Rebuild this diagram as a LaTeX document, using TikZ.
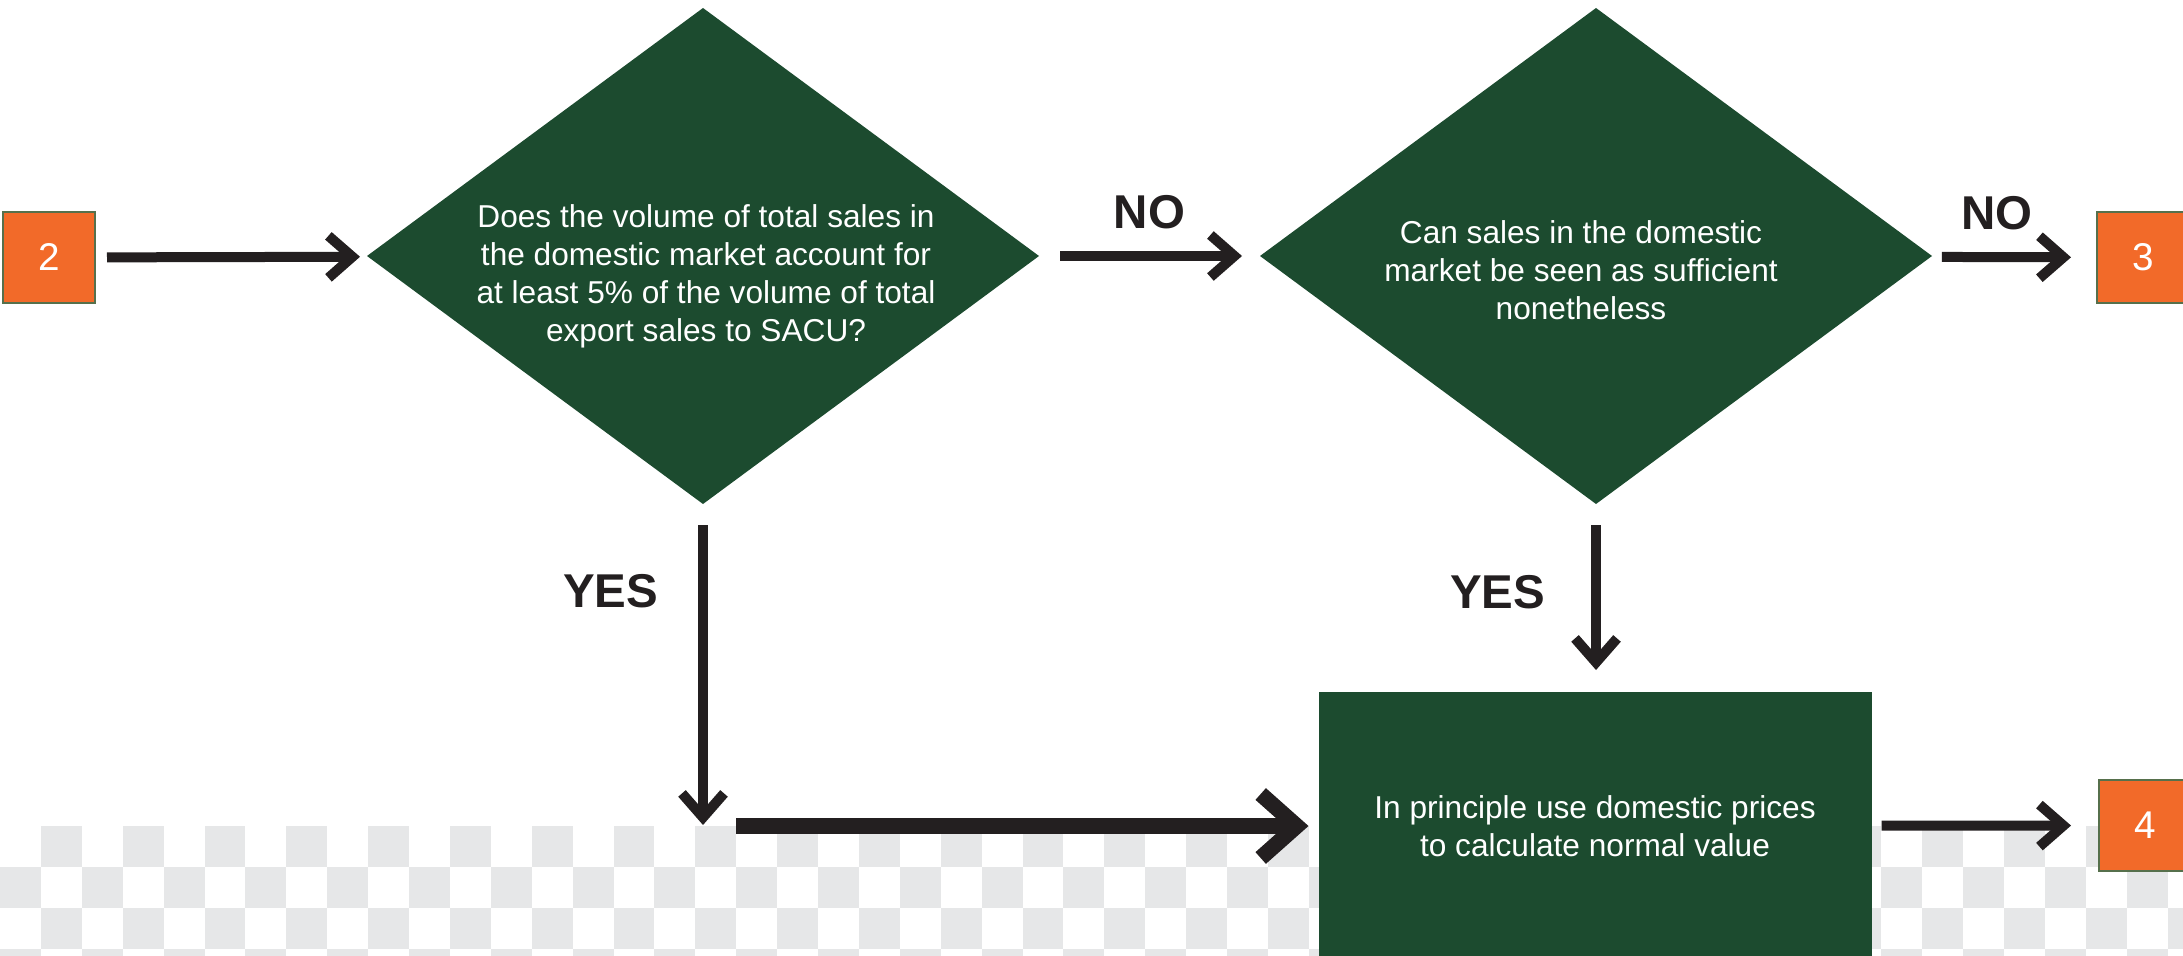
\documentclass[tikz,border=0pt]{standalone}
\usepackage{fontspec}
\setmainfont{Liberation Sans}
\usepackage{xcolor}
\definecolor{dkgreen}{HTML}{1C4B2F}
\definecolor{orng}{HTML}{F26A29}
\definecolor{oliveedge}{HTML}{56704C}
\definecolor{chk}{HTML}{E6E7E8}
\definecolor{ink}{HTML}{231F20}
\usepackage{tikz}
\usetikzlibrary{shapes.geometric}
\usetikzlibrary{arrows.meta}
\usetikzlibrary{positioning}

\begin{document}
\begin{tikzpicture}[line width=1mm,
    numbox/.style={fill=orng,draw=oliveedge,line width=0.4pt,minimum width=0.92cm,minimum height=0.91cm,inner sep=0,outer sep=0,text=white,font=\fontsize{11}{13}\selectfont},
    ask/.style={diamond,fill=dkgreen,minimum width=6.72cm,minimum height=4.96cm,inner sep=0,outer sep=0},
    asktext/.style={text=white,align=center,inner sep=0,outer sep=0,font=\fontsize{9}{10.8}\selectfont},
    arr/.style={draw=ink,line width=1mm,-{Straight Barb[length=2.4mm,width=4.2mm]}},
    bigarr/.style={draw=ink,line width=1.57mm,-{Straight Barb[length=3.6mm,width=6.4mm]}},
    lab/.style={text=ink,inner sep=0,font=\fontsize{13.5}{16}\bfseries\selectfont}]
  \useasboundingbox (0,0) rectangle (21.83,-9.56);
  \clip (0,0) rectangle (21.83,-9.56);
  % checker strip along the bottom
  \foreach \r in {0,...,3}
    \foreach \c in {0,...,53}{
      \ifodd\numexpr\r+\c\relax
        \fill[chk] (\c*0.409,-8.26-\r*0.409) rectangle ++(0.409,-0.409);
      \fi
    }
  \node[numbox](s2) at (0.49,-2.575) {2};
  \node[numbox](s3) at (21.43,-2.575) {3};
  \node[numbox](s4) at (21.45,-8.255) {4};
  \node[ask](d1) at (7.03,-2.56) {};
  \node[asktext] at ([xshift=0.3mm,yshift=-2mm]d1.center) {Does the volume of total sales in\\the domestic market account for\\at least 5\% of the volume of total\\export sales to SACU?};
  \node[ask](d2) at (15.96,-2.56) {};
  \node[asktext] at ([xshift=-1.5mm,yshift=-1.4mm]d2.center) {Can sales in the domestic\\market be seen as sufficient\\nonetheless};
  \node[fill=dkgreen,minimum width=5.53cm,minimum height=2.68cm,asktext](res) at (15.95,-8.26) {In principle use domestic prices\\to calculate normal value};
  \coordinate (turn) at (7.03,-8.26);
  \draw[arr,shorten <=0.12cm,shorten >=0.08cm] (s2) -- (d1);
  \draw[arr,shorten <=0.21cm,shorten >=0.18cm] (d1) -- node[lab,above=0.22cm]{NO} (d2);
  \draw[arr,shorten <=0.11cm,shorten >=0.26cm] (d2) -- node[lab,above=0.22cm,pos=0.4]{NO} (s3);
  \draw[arr,shorten <=0.21cm,shorten >=0.01cm] (d1.south) -- node[lab,left=0.4cm,pos=0.27]{YES} (turn);
  \draw[bigarr,shorten <=0.33cm,shorten >=0.1cm] (turn) -- (res);
  \draw[arr,shorten <=0.21cm,shorten >=0.22cm] (d2.south) -- node[lab,left=0.46cm,pos=0.47]{YES} (d2.south |- res.north);
  \draw[arr,shorten <=0.1cm,shorten >=0.28cm] (res) -- (s4);
\end{tikzpicture}
\end{document}
